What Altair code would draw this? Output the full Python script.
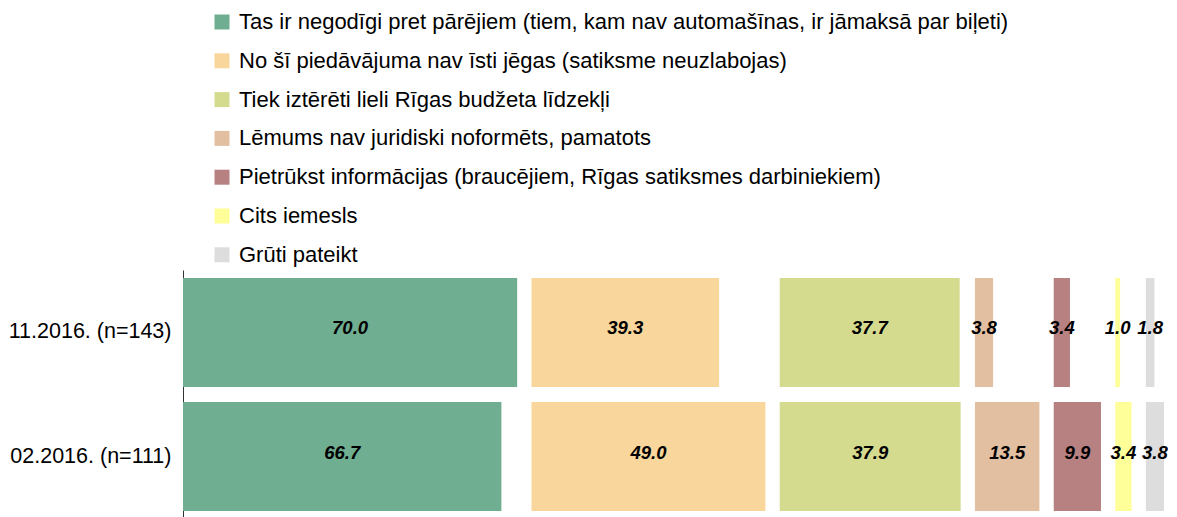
import altair as alt
import pandas as pd

categories = [
    "Tas ir negodīgi pret pārējiem (tiem, kam nav automašīnas, ir jāmaksā par biļeti)",
    "No šī piedāvājuma nav īsti jēgas (satiksme neuzlabojas)",
    "Tiek iztērēti lieli Rīgas budžeta līdzekļi",
    "Lēmums nav juridiski noformēts, pamatots",
    "Pietrūkst informācijas (braucējiem, Rīgas satiksmes darbiniekiem)",
    "Cits iemesls",
    "Grūti pateikt",
]
surveys = ["11.2016. (n=143)", "02.2016. (n=111)"]
values_nov = [70.0, 39.3, 37.7, 3.8, 3.4, 1.0, 1.8]
values_feb = [66.7, 49.0, 37.9, 13.5, 9.9, 3.4, 3.8]
colors = ["#6FAE91", "#F9D69B", "#D4DA8E", "#E3BFA1", "#B78182", "#FFFF99", "#DDDDDD"]

GAP = 3.0  # spacing between category columns, in value units

rows = []
offset = 0.0
for k, cat in enumerate(categories):
    col_max = max(values_nov[k], values_feb[k])
    for survey, vals in zip(surveys, [values_nov, values_feb]):
        v = vals[k]
        rows.append({
            "category": cat,
            "survey": survey,
            "value": v,
            "start": offset,
            "end": offset + v,
            "mid": offset + v / 2,
        })
    offset += col_max + GAP
total = offset - GAP
df = pd.DataFrame(rows)

FONT = "Liberation Sans"

xscale = alt.Scale(domain=[0, total], nice=False, zero=False)
yenc = alt.Y(
    "survey:N",
    sort=surveys,
    scale=alt.Scale(paddingInner=0.12, paddingOuter=0.064),
    axis=alt.Axis(
        title=None, ticks=False, grid=False, labelFontSize=21.5, labelColor="black",
        labelPadding=12, domainColor="#333333", domainWidth=1, labelFont=FONT,
    ),
)

base = alt.Chart(df)

bars = base.mark_bar().encode(
    x=alt.X("start:Q", scale=xscale, axis=None),
    x2="end:Q",
    y=yenc,
    color=alt.Color(
        "category:N",
        scale=alt.Scale(domain=categories, range=colors),
        legend=alt.Legend(
            title=None, orient="none", legendX=28, legendY=-259, direction="vertical",
            symbolType="square", symbolSize=225, symbolStrokeWidth=0,
            labelFontSize=22, labelFont=FONT, labelColor="black", labelLimit=1500,
            labelOffset=6, rowPadding=16.8, padding=0,
        ),
    ),
)

labels = base.mark_text(
    fontStyle="italic", fontWeight="bold", fontSize=18.5, color="black", dy=-4, font=FONT,
).encode(
    x=alt.X("mid:Q", scale=xscale, axis=None),
    y=alt.Y("survey:N", sort=surveys),
    text=alt.Text("value:Q", format=".1f"),
)

chart = (
    alt.layer(bars, labels)
    .properties(width=981, height=249,
                padding={"top": 3, "left": 0, "right": 0, "bottom": 0})
    .configure(font=FONT, view=alt.ViewConfig(stroke=None))
)

chart.save("out.html", embed_options={"renderer": "svg", "actions": False})
